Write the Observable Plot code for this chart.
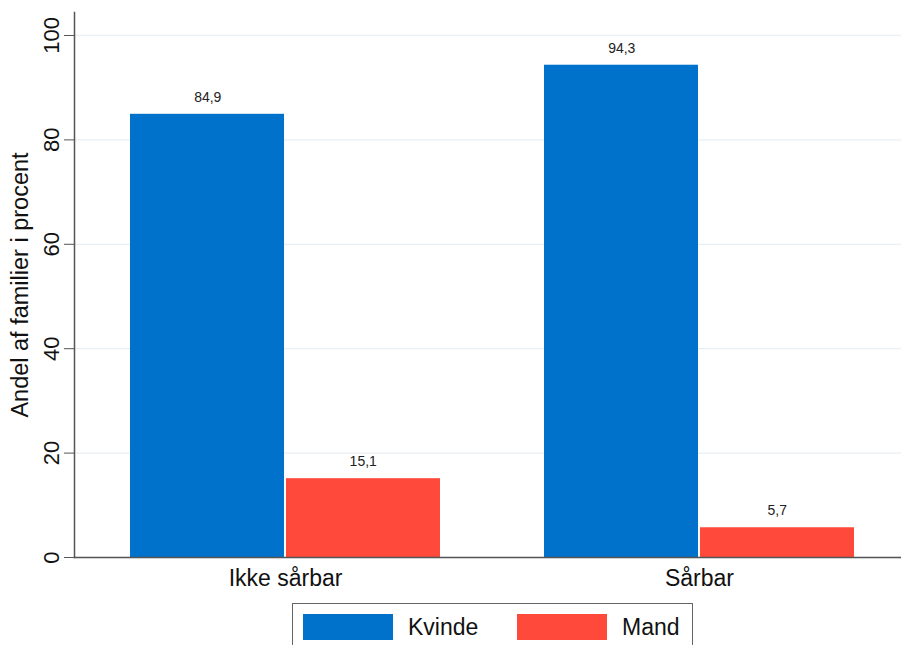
<!DOCTYPE html>
<html>
<head>
<meta charset="utf-8">
<script src="https://cdn.jsdelivr.net/npm/d3@7"></script>
<script src="https://cdn.jsdelivr.net/npm/@observablehq/plot@0.6"></script>
<style>
  html, body { margin: 0; padding: 0; background: #fff; overflow: hidden; }
  body { width: 901px; height: 645px; position: relative; font-family: "Liberation Sans", Arial, sans-serif; }
  #chart { position: absolute; left: 0; top: 0; width: 910px; }
  #chart svg { max-width: none !important; }
  #legend { position: absolute; left: 292px; top: 603px; width: 401px; height: 50px; border: 1px solid #666; box-sizing: border-box; }
  .sw { position: absolute; top: 10px; width: 90px; height: 26px; }
  .lb { position: absolute; top: 9px; font-size: 23px; color: #111; line-height: 28px; }
</style>
</head>
<body>
<div id="chart"></div>
<div id="legend"></div>
<script>
const groups = ["Ikke sårbar", "Sårbar"];
const sexes = ["Kvinde", "Mand"];
const kvinde = [84.9, 94.3];
const mand = [15.1, 5.7];
const yTicks = [0, 20, 40, 60, 80, 100];
const colors = ["#0072CC", "#FF4A3B"];
const yTitle = "Andel af familier i procent";

const rows = [];
groups.forEach((g, i) => {
  rows.push({group: g, sex: sexes[0], value: kvinde[i]});
  rows.push({group: g, sex: sexes[1], value: mand[i]});
});

const W = 910, H = 600, ML = 74, MR = 0, MT = 12, MB = 43;
const padIn = 0.2506, padOut = 0.1326;
const step = (W - ML - MR) / (groups.length - padIn + 2 * padOut);
const bw = step * (1 - padIn);
const half = bw / 2;
const fmt = v => v.toFixed(1).replace(".", ",");

const plot = Plot.plot({
  width: W, height: H,
  marginLeft: ML, marginRight: MR, marginTop: MT, marginBottom: MB,
  style: {fontFamily: "'Liberation Sans', Arial, sans-serif", background: "#fff", maxWidth: "none"},
  x: {domain: groups, paddingInner: padIn, paddingOuter: padOut, axis: null},
  y: {domain: [0, 104.4], axis: null},
  color: {domain: sexes, range: colors},
  marks: [
    Plot.gridY(yTicks, {stroke: "#E8F0F3", strokeOpacity: 1, strokeWidth: 1.3}),
    Plot.barY(rows.filter(d => d.sex === sexes[0]), {x: "group", y: "value", fill: "sex", insetRight: half + 0.5}),
    Plot.barY(rows.filter(d => d.sex === sexes[1]), {x: "group", y: "value", fill: "sex", insetLeft: half + 0.5}),
    Plot.text(rows.filter(d => d.sex === sexes[0]), {x: "group", y: "value", text: d => fmt(d.value), dx: -half / 2, dy: -17, fontSize: 14, fill: "#222"}),
    Plot.text(rows.filter(d => d.sex === sexes[1]), {x: "group", y: "value", text: d => fmt(d.value), dx: half / 2, dy: -17, fontSize: 14, fill: "#222"}),
    Plot.axisX({tickSize: 0, tickPadding: 12, fontSize: 23, label: null, color: "#111"}),
    Plot.axisY(yTicks, {tickSize: 10, tickPadding: 6, tickRotate: -90, fontSize: 22, stroke: "#555", color: "#111", label: null}),
    Plot.axisY([], {tickSize: 0, fontSize: 23.5, color: "#111",
      label: yTitle, labelAnchor: "center", labelArrow: "none", labelOffset: 63}),
    Plot.frame({anchor: "left", stroke: "#555", strokeWidth: 1.5}),
    Plot.frame({anchor: "bottom", stroke: "#555", strokeWidth: 1.5})
  ]
});
document.getElementById("chart").appendChild(plot);

const leg = document.getElementById("legend");
const swX = [10, 224], lbX = [115, 329];
sexes.forEach((s, i) => {
  const sw = document.createElement("div");
  sw.className = "sw"; sw.style.left = swX[i] + "px"; sw.style.background = colors[i];
  leg.appendChild(sw);
  const lb = document.createElement("div");
  lb.className = "lb"; lb.style.left = lbX[i] + "px"; lb.textContent = s;
  leg.appendChild(lb);
});
</script>
</body>
</html>
